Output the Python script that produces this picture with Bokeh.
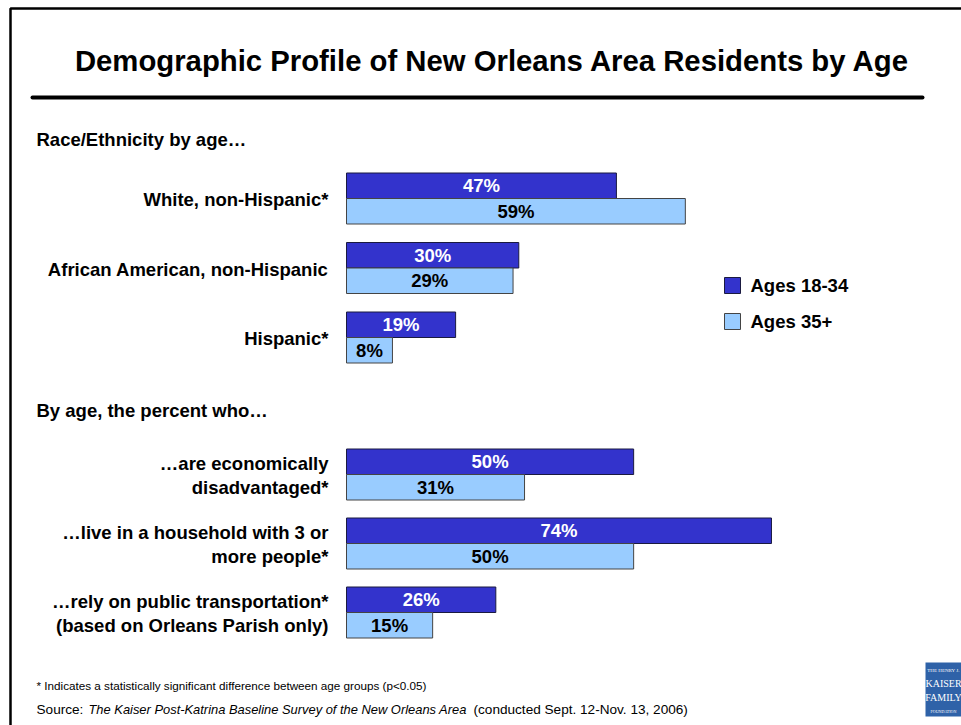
from bokeh.plotting import figure
from bokeh.models import Range1d, ColumnDataSource
from bokeh.core.properties import value
from bokeh.embed import file_html
from bokeh.resources import INLINE

# ---------------- data ----------------
categories = [
    ["White, non-Hispanic*"],
    ["African American, non-Hispanic"],
    ["Hispanic*"],
    ["\u2026are economically", "disadvantaged*"],
    ["\u2026live in a household with 3 or", "more people*"],
    ["\u2026rely on public transportation*", "(based on Orleans Parish only)"],
]
ages_18_34 = [47, 30, 19, 50, 74, 26]
ages_35_plus = [59, 29, 8, 31, 50, 15]
series_names = ["Ages 18-34", "Ages 35+"]
section_titles = ["Race/Ethnicity by age\u2026", "By age, the percent who\u2026"]
title = "Demographic Profile of New Orleans Area Residents by Age"
footnote = "* Indicates a statistically significant difference between age groups (p<0.05)"
source_parts = ["Source: ", "The Kaiser Post-Katrina Baseline Survey of the New Orleans Area",
                "(conducted Sept. 12-Nov. 13, 2006)"]
logo_lines = ["THE HENRY J.", "KAISER", "FAMILY", "FOUNDATION"]

# ---------------- layout ----------------
W, H = 961, 725
PX = 5.743          # pixels per percentage point
X0 = 346            # page x of 0%
def dx(px):         # page pixel x -> data x
    return (px - X0) / PX

DARK = "#3333CC"
LIGHT = "#99CCFF"
FONT = value("Liberation Sans")
BOLD_SIZE = "18.5px"

p = figure(width=W, height=H, output_backend="svg", toolbar_location=None,
           x_range=Range1d(dx(0), dx(W)), y_range=Range1d(H, 0),
           x_axis_location=None, y_axis_location=None, min_border=0,
           background_fill_color="white", border_fill_color="white")
p.outline_line_color = None
p.grid.visible = False

# group centres (boundary between the two bars)
centers = [198 + i * 69.5 for i in range(3)] + [474 + i * 69 for i in range(3)]
BH = 25.5
dark_y = [c - BH / 2 for c in centers]
light_y = [c + BH / 2 for c in centers]

src = ColumnDataSource(dict(
    dy=dark_y, ly=light_y, a=ages_18_34, b=ages_35_plus,
    am=[v / 2 for v in ages_18_34], bm=[v / 2 for v in ages_35_plus],
    at=[f"{v}%" for v in ages_18_34], bt=[f"{v}%" for v in ages_35_plus],
))

p.hbar(y="dy", left=0, right="a", height=BH, source=src, fill_color=DARK, line_color="#1a1a40", line_width=1)
p.hbar(y="ly", left=0, right="b", height=BH, source=src, fill_color=LIGHT, line_color="#444444", line_width=1)

p.text(x="am", y="dy", text="at", source=src, text_color="white", text_font=FONT, text_font_style="bold",
       text_font_size=BOLD_SIZE, text_align="center", text_baseline="middle")
p.text(x="bm", y="ly", text="bt", source=src, text_color="black", text_font=FONT, text_font_style="bold",
       text_font_size=BOLD_SIZE, text_align="center", text_baseline="middle")

# category labels
lx, ly_, lt = [], [], []
for c, lines in zip(centers, categories):
    n = len(lines)
    for k, s in enumerate(lines):
        lx.append(dx(328))
        ly_.append(c + 1 + (k - (n - 1) / 2) * 24)
        lt.append(s)
p.text(x=lx, y=ly_, text=lt, text_color="black", text_font=FONT, text_font_style="bold",
       text_font_size=BOLD_SIZE, text_align="right", text_baseline="middle")

# section titles
p.text(x=[dx(36), dx(36)], y=[139, 410], text=section_titles, text_color="black", text_font=FONT,
       text_font_style="bold", text_font_size=BOLD_SIZE, text_align="left", text_baseline="middle")

# title + rule
p.text(x=[dx(492)], y=[60], text=[title], text_color="black", text_font=FONT, text_font_style="bold",
       text_font_size="29.3px", text_align="center", text_baseline="middle")
p.line(x=[dx(32), dx(922)], y=[97, 97], line_color="black", line_width=4, line_cap="round")

# slide border
p.line(x=[dx(10), dx(10), dx(980)], y=[740, 8, 8], line_color="black", line_width=2.5)

# legend
p.rect(x=[dx(732), dx(732)], y=[285, 321], width=16 / PX, height=16, fill_color=[DARK, LIGHT],
       line_color=["#1a1a40", "#444444"], line_width=1)
p.text(x=[dx(750), dx(750)], y=[285, 321], text=series_names, text_color="black", text_font=FONT,
       text_font_style="bold", text_font_size=BOLD_SIZE, text_align="left", text_baseline="middle")

# footnotes
p.text(x=[dx(36)], y=[685], text=[footnote], text_color="black", text_font=FONT,
       text_font_size="11.7px", text_align="left", text_baseline="middle")
p.text(x=[dx(36), dx(88), dx(473)], y=[709, 709, 709], text=source_parts, text_color="black",
       text_font=FONT, text_font_style=["normal", "italic", "normal"],
       text_font_size=["13.6px", "12.9px", "13.6px"],
       text_align="left", text_baseline="middle")

# logo
p.rect(x=[dx(943)], y=[689], width=36 / PX, height=54, fill_color="#2f62a8", line_color=None)
p.text(x=[dx(943)] * 4, y=[670, 683, 697, 711],
       text=logo_lines, text_color="white",
       text_font=value("Liberation Serif"), text_font_size=["5px", "10px", "10px", "4px"],
       text_align="center", text_baseline="middle")

open("out.html", "w").write(file_html(p, INLINE))
